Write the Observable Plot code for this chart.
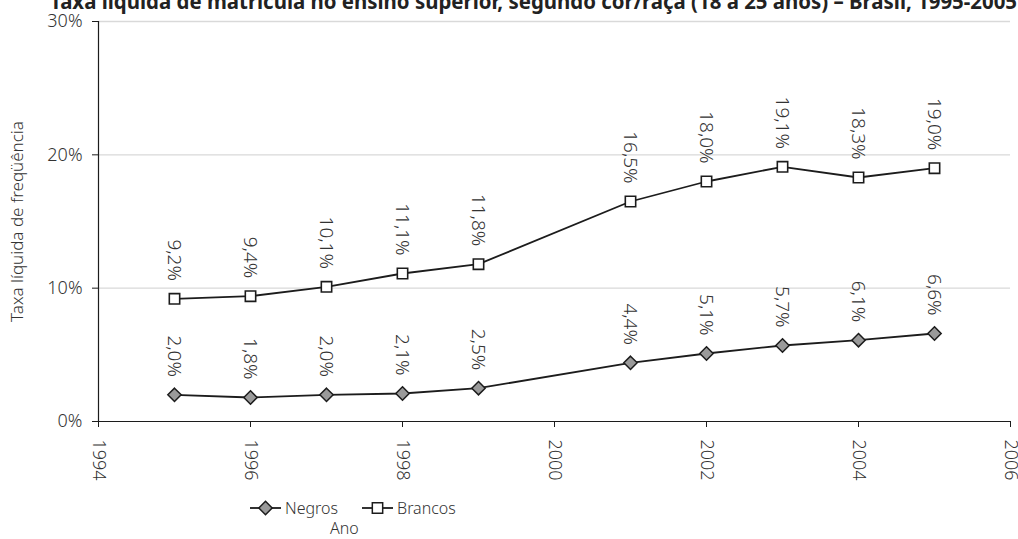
<!DOCTYPE html>
<html>
<head>
<meta charset="utf-8">
<script src="https://cdn.jsdelivr.net/npm/d3@7"></script>
<script src="https://cdn.jsdelivr.net/npm/@observablehq/plot@0.6"></script>
<style>
  body { margin: 0; background: #fff; }
  #wrap {
    position: relative; width: 1018px; height: 539px; overflow: hidden;
    font-family: "Noto Sans", sans-serif; font-weight: 300;
    color: #333;
  }
  #wrap > svg.plot { position: absolute; left: 0; top: 0; }
  #title { position: absolute; left: 0; top: 0; }
  #legend {
    position: absolute; left: 250px; top: 497px; height: 22px; line-height: 1;
    display: flex; align-items: center; font-size: 16px; color: #333;
  }
  #legend .item { display: flex; align-items: center; margin-right: 24px; }
  #legend svg { margin-right: 3px; }
  #xlabel { position: absolute; left: 330px; top: 520px; line-height: 1; font-size: 16px; color: #333; }
</style>
</head>
<body>
<div id="wrap"></div>
<script>
// Net enrolment rate in higher education by colour/race, Brazil
const years = [1995, 1996, 1997, 1998, 1999, 2001, 2002, 2003, 2004, 2005];
const negros = [2.0, 1.8, 2.0, 2.1, 2.5, 4.4, 5.1, 5.7, 6.1, 6.6];
const brancos = [9.2, 9.4, 10.1, 11.1, 11.8, 16.5, 18.0, 19.1, 18.3, 19.0];
const seriesNames = ["Negros", "Brancos"];
const xTicks = [1994, 1996, 1998, 2000, 2002, 2004, 2006];
const yTicks = [0, 10, 20, 30];
const titleText = "Taxa líquida de matrícula no ensino superior, segundo cor/raça (18 a 25 anos) – Brasil, 1995-2005";
const yLabel = "Taxa líquida de freqüência";
const xLabel = "Ano";

const rowsNegros = years.map((ano, i) => ({ano, serie: seriesNames[0], valor: negros[i]}));
const rowsBrancos = years.map((ano, i) => ({ano, serie: seriesNames[1], valor: brancos[i]}));
const rows = rowsNegros.concat(rowsBrancos);

const pct = v => v.toFixed(1).replace(".", ",") + "%";
const font = `"Noto Sans", sans-serif`;
const ink = "#1c1c1c";
const textInk = "#333";

const wrap = document.getElementById("wrap");

const chart = Plot.plot({
  width: 1018,
  height: 539,
  marginLeft: 98,
  marginRight: 8,
  marginTop: 21,
  marginBottom: 118,
  style: {fontFamily: font, fontSize: "18px", fontWeight: 300, color: textInk, background: "#fff"},
  x: {domain: [1994, 2006]},
  y: {domain: [0, 30]},
  marks: [
    Plot.gridY(yTicks.slice(1), {stroke: "#d9d9d9", strokeOpacity: 1, strokeWidth: 1.4}),
    Plot.ruleY([0], {stroke: ink, strokeWidth: 1.2}),
    Plot.ruleX([xTicks[0]], {stroke: ink, strokeWidth: 1.2}),
    Plot.axisY(yTicks, {
      tickSize: 6, tickPadding: 10, stroke: ink, fill: textInk, fontSize: 18,
      tickFormat: d => d + "%",
      label: null
    }),
    Plot.axisY({
      ticks: [], tickSize: 0, fill: textInk, fontSize: 17,
      label: yLabel, labelAnchor: "center", labelArrow: "none", labelOffset: 88
    }),
    Plot.axisX(xTicks, {
      tickSize: 6, tickPadding: 12, tickRotate: 90, stroke: ink, fill: textInk, fontSize: 18,
      tickFormat: d => String(d), label: null
    }),
    Plot.line(rows, {x: "ano", y: "valor", z: "serie", stroke: ink, strokeWidth: 1.8}),
    Plot.dot(rowsNegros, {x: "ano", y: "valor", symbol: "diamond2", r: 6, fill: "#9a9a9a", stroke: ink, strokeWidth: 1.5}),
    Plot.dot(rowsBrancos, {x: "ano", y: "valor", symbol: "square2", r: 6.6, fill: "#fff", stroke: ink, strokeWidth: 1.6}),
    Plot.text(rows, {
      x: "ano", y: "valor", text: d => pct(d.valor),
      rotate: 90, textAnchor: "end", dy: -18, fontSize: 19, fill: textInk
    })
  ]
});
chart.classList.add("plot");
wrap.appendChild(chart);

// Title (bold, along the top edge)
const t = d3.select(wrap).append("svg").attr("id", "title").attr("width", 1018).attr("height", 20);
t.append("text")
  .attr("x", 50).attr("y", 9)
  .attr("textLength", 967).attr("lengthAdjust", "spacingAndGlyphs")
  .attr("font-family", font).attr("font-weight", "bold").attr("font-size", 21)
  .attr("fill", "#222")
  .text(titleText);

// Legend
const legend = d3.select(wrap).append("div").attr("id", "legend");
const styles = {
  Negros: {type: d3.symbolDiamond2, size: 6 * 6 * Math.PI, fill: "#9a9a9a"},
  Brancos: {type: d3.symbolSquare2, size: 6.6 * 6.6 * Math.PI, fill: "#fff"}
};
for (const name of seriesNames) {
  const item = legend.append("div").attr("class", "item");
  const s = item.append("svg").attr("width", 32).attr("height", 16);
  s.append("line").attr("x1", 0).attr("x2", 31).attr("y1", 8).attr("y2", 8)
    .attr("stroke", ink).attr("stroke-width", 1.8);
  s.append("path").attr("transform", "translate(15.5,8)")
    .attr("d", d3.symbol(styles[name].type, styles[name].size)())
    .attr("fill", styles[name].fill).attr("stroke", ink).attr("stroke-width", 1.5);
  item.append("span").text(name);
}

d3.select(wrap).append("div").attr("id", "xlabel").text(xLabel);
</script>
</body>
</html>
